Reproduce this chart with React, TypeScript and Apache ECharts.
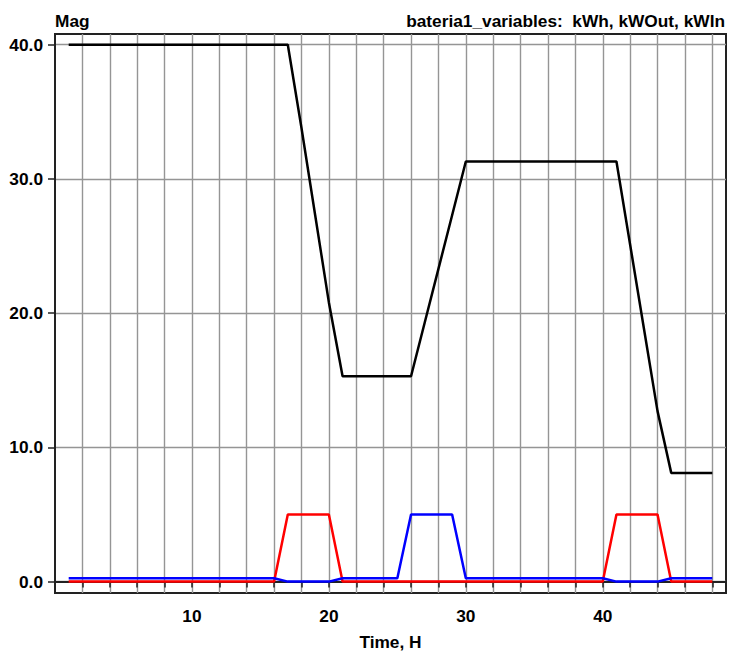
import React, { useEffect, useRef } from "react";
import * as echarts from "echarts";

// Hourly simulation results for the storage element "bateria1"
const hours = [
  1, 2, 3, 4, 5, 6, 7, 8, 9, 10, 11, 12, 13, 14, 15, 16, 17, 18, 19, 20, 21, 22, 23, 24,
  25, 26, 27, 28, 29, 30, 31, 32, 33, 34, 35, 36, 37, 38, 39, 40, 41, 42, 43, 44, 45, 46, 47, 48,
];

// Stored energy, kWh
const kWh = [
  40, 40, 40, 40, 40, 40, 40, 40, 40, 40, 40, 40, 40, 40, 40, 40, 40, 33.8, 27.3, 20.8, 15.3, 15.3, 15.3, 15.3,
  15.3, 15.3, 19.3, 23.3, 27.3, 31.3, 31.3, 31.3, 31.3, 31.3, 31.3, 31.3, 31.3, 31.3, 31.3, 31.3, 31.3, 25.1, 18.9, 12.7,
  8.1, 8.1, 8.1, 8.1,
];

// Discharge power, kW
const kWOut = [
  0, 0, 0, 0, 0, 0, 0, 0, 0, 0, 0, 0, 0, 0, 0, 0, 5, 5, 5, 5, 0, 0, 0, 0,
  0, 0, 0, 0, 0, 0, 0, 0, 0, 0, 0, 0, 0, 0, 0, 0, 5, 5, 5, 5, 0, 0, 0, 0,
];

// Charge power (idling draw when not discharging), kW
const kWIn = [
  0.25, 0.25, 0.25, 0.25, 0.25, 0.25, 0.25, 0.25, 0.25, 0.25, 0.25, 0.25, 0.25, 0.25, 0.25, 0.25, 0, 0, 0, 0,
  0.25, 0.25, 0.25, 0.25, 0.25, 5, 5, 5, 5, 0.25, 0.25, 0.25, 0.25, 0.25, 0.25, 0.25, 0.25, 0.25, 0.25, 0.25,
  0, 0, 0, 0, 0.25, 0.25, 0.25, 0.25,
];

const xTickValues = [
  2, 4, 6, 8, 10, 12, 14, 16, 18, 20, 22, 24, 26, 28, 30, 32, 34, 36, 38, 40, 42, 44, 46, 48,
];
const xLabelValues = [10, 20, 30, 40];
const yTickValues = [0, 10, 20, 30, 40];

const FONT = '"Liberation Sans", Arial, sans-serif';

const pairs = (ys: number[]) => hours.map((h, i) => [h, ys[i]]);

export default function App() {
  const ref = useRef<HTMLDivElement>(null);

  useEffect(() => {
    if (!ref.current) return;
    const chart = echarts.init(ref.current, null, { renderer: "svg" });

    const lineSeries = (name: string, ys: number[], color: string) => ({
      name,
      type: "line",
      data: pairs(ys),
      showSymbol: false,
      symbol: "none",
      lineStyle: { color, width: 2.5 },
      itemStyle: { color },
      emphasis: { disabled: true },
      silent: true,
    });

    chart.setOption({
      animation: false,
      backgroundColor: "#ffffff",
      grid: {
        left: 55,
        right: 3,
        top: 34,
        bottom: 58,
        show: true,
        borderColor: "#222",
        borderWidth: 2,
        backgroundColor: "#ffffff",
      },
      graphic: [
        {
          type: "text",
          left: 55,
          top: 12.5,
          style: { text: "Mag", font: `bold 17.3px ${FONT}`, fill: "#000" },
        },
        {
          type: "text",
          right: 4,
          top: 12.5,
          style: {
            text: "bateria1_variables:  kWh, kWOut, kWIn",
            font: `bold 17.3px ${FONT}`,
            fill: "#000",
          },
        },
      ],
      xAxis: {
        type: "value",
        min: 0,
        max: 49,
        name: "Time, H",
        nameLocation: "middle",
        nameGap: 40,
        nameTextStyle: { fontFamily: FONT, fontWeight: "bold", fontSize: 17.3, color: "#000" },
        axisLine: { show: true, lineStyle: { color: "#222", width: 2 } },
        axisTick: {
          show: true,
          customValues: xTickValues,
          length: 6,
          lineStyle: { color: "#222", width: 1.5 },
        },
        axisLabel: {
          customValues: xLabelValues,
          margin: 14,
          fontFamily: FONT,
          fontWeight: "bold",
          fontSize: 17.3,
          color: "#000",
        },
        splitLine: { show: true, lineStyle: { color: "#959595", width: 1.4 } },
      },
      yAxis: {
        type: "value",
        min: -0.85,
        max: 40.8,
        axisLine: { show: true, lineStyle: { color: "#222", width: 2 } },
        axisTick: {
          show: true,
          customValues: yTickValues,
          length: 7,
          lineStyle: { color: "#222", width: 1.5 },
        },
        axisLabel: {
          customValues: yTickValues,
          margin: 12,
          fontFamily: FONT,
          fontWeight: "bold",
          fontSize: 17.3,
          color: "#000",
          formatter: (v: number) => v.toFixed(1),
        },
        splitLine: { show: true, lineStyle: { color: "#959595", width: 1.4 } },
      },
      series: [
        lineSeries("kWh", kWh, "#000000"),
        lineSeries("kWOut", kWOut, "#ff0000"),
        lineSeries("kWIn", kWIn, "#0000ff"),
      ],
    });

    return () => chart.dispose();
  }, []);

  return (
    <div
      ref={ref}
      style={{ position: "fixed", left: 0, top: 0, width: 729, height: 655, background: "#fff" }}
    />
  );
}
